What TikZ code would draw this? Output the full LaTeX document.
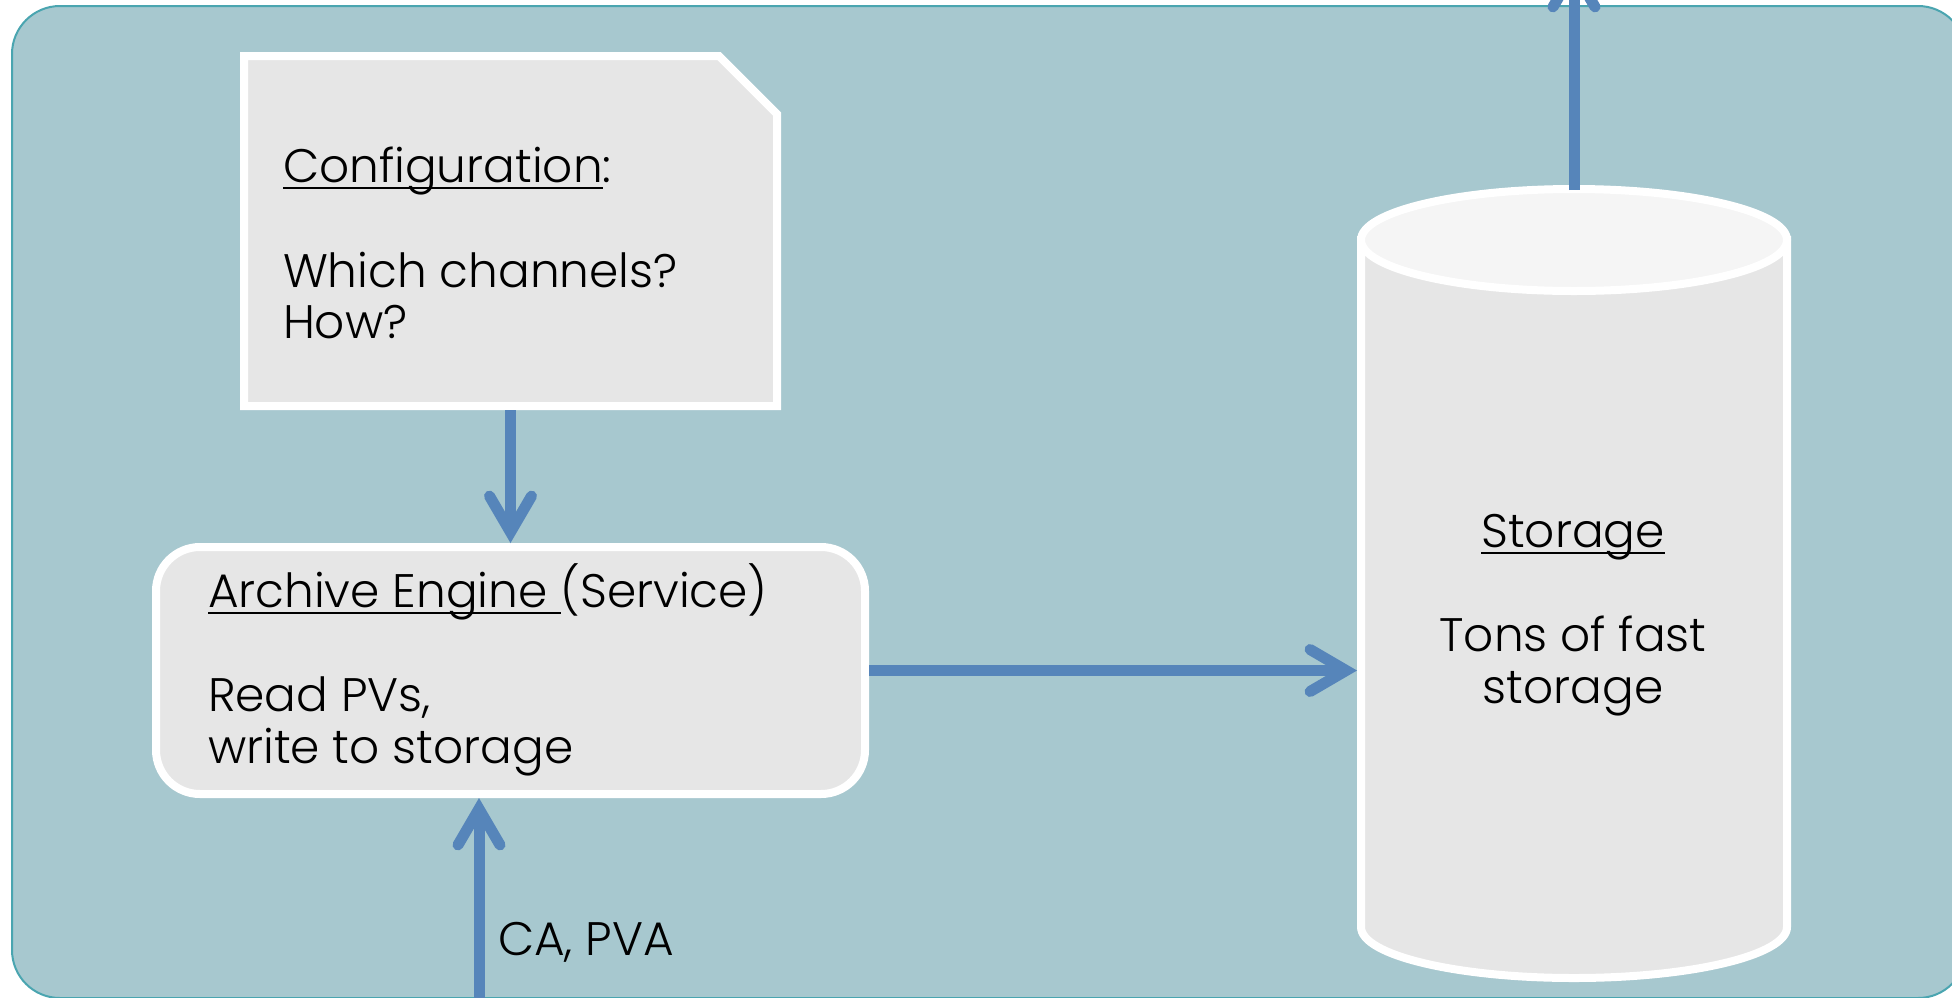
\documentclass[tikz,border=0pt]{standalone}
\usepackage{fontspec}
\setmainfont{Poppins}[UprightFont={* Light}]
\usetikzlibrary{arrows.meta}
\definecolor{bgfill}{HTML}{A7C8CF}
\definecolor{bgline}{HTML}{4AA5B0}
\definecolor{boxfill}{HTML}{E6E6E6}
\definecolor{topfill}{HTML}{F5F5F5}
\definecolor{arrowblue}{HTML}{5685BA}
\newcommand\ulin[1]{\setbox0=\hbox{#1}\rlap{\rule[-7.3pt]{\wd0}{2.4pt}}\box0}
\begin{document}
\begin{tikzpicture}[x=1pt,y=-1pt,
  boxline/.style={draw=white, line width=8pt, fill=boxfill},
  ghost/.style={inner sep=0pt, outer sep=0pt},
  txt/.style={inner sep=0pt, outer sep=0pt, font=\fontsize{47}{52}\selectfont, text=black},
  flow/.style={draw=arrowblue, line width=11pt,
    -{Straight Barb[length=36pt, width=42pt, line cap=round, line join=miter]}},
]
\useasboundingbox (0,0) rectangle (1952,997);
\clip (0,0) rectangle (1952,997);
% background panel
\filldraw[fill=bgfill, draw=bgline, line width=2pt, rounded corners=48pt] (12,6) rectangle (1966,998);

% configuration (snipped corner)
\node[ghost, minimum width=541pt, minimum height=358pt, anchor=north west] (config) at (240,52) {};
\draw[boxline] ([shift={(4pt,-4pt)}]config.north west) -- ([shift={(-62pt,-4pt)}]config.north east)
  -- ([shift={(-4pt,-62pt)}]config.north east) -- ([shift={(-4pt,4pt)}]config.south east)
  -- ([shift={(4pt,4pt)}]config.south west) -- cycle;
\node[txt, anchor=base west] (cfg1) at (283,182) {\ulin{Configuration}:};
\node[txt, anchor=base west] (cfg2) at (283,287) {Which channels?};
\node[txt, anchor=base west] (cfg3) at (283,338) {How?};

% archive engine
\node[boxline, rounded corners=44pt, minimum width=709pt, minimum height=247pt, inner sep=0pt] (archive) at (510.5,670.5) {};
\node[txt, anchor=base west] (ae1) at (208,607) {\ulin{Archive Engine\ }(Service)};
\node[txt, anchor=base west] (ae2) at (208,711) {Read PVs,};
\node[txt, anchor=base west] (ae3) at (208,763) {write to storage};

% storage cylinder
\node[ghost, minimum width=434pt, minimum height=796pt] (storage) at (1574,584) {};
\draw[boxline] (1361,240) -- (1361,927) arc[start angle=180, end angle=360, x radius=213pt, y radius=51pt] -- (1787,240) -- cycle;
\draw[boxline, fill=topfill] (1574,240) ellipse [x radius=213pt, y radius=51pt];
\node[txt, anchor=base] (st1) at (1573,547) {\ulin{Storage}};
\node[txt, anchor=base] (st2) at (1573,651) {Tons of fast};
\node[txt, anchor=base] (st3) at (1573,703) {storage};

% connectors
\coordinate (caIn) at (479,1010);
\coordinate (topOut) at (1574,-40);
\draw[flow] (config.south) -- (archive.north);
\draw[flow] (archive.east) -- (archive.east -| storage.west);
\draw[flow] (caIn) -- (caIn |- archive.south);
\draw[flow] ([yshift=-4pt]storage.north) -- (topOut);
\node[txt, anchor=base west] (calbl) at (498,955) {CA, PVA};
\end{tikzpicture}
\end{document}
